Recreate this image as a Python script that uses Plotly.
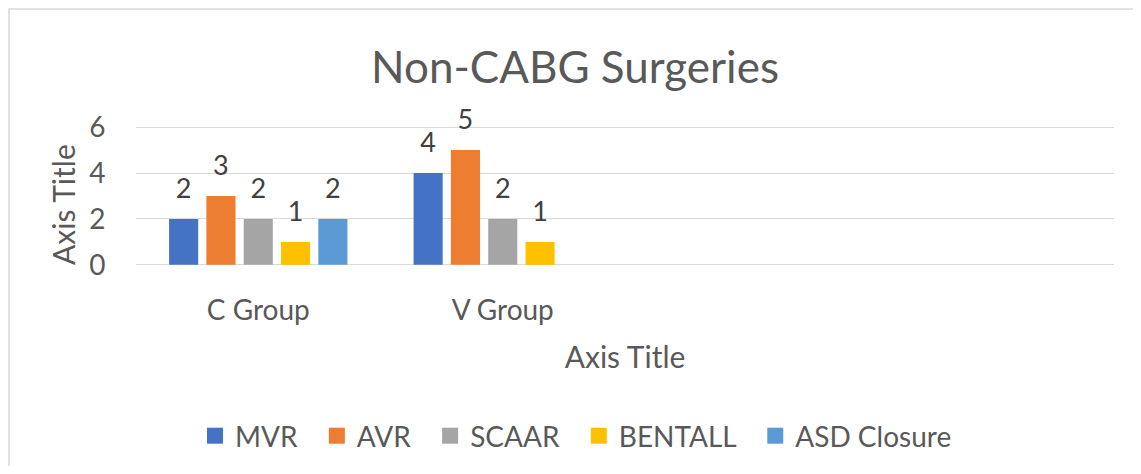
import plotly.graph_objects as go

groups = ["C Group", "V Group", " ", "  "]
series_names = ["MVR", "AVR", "SCAAR", "BENTALL", "ASD Closure"]
mvr = [2, 4]
avr = [3, 5]
scaar = [2, 2]
bentall = [1, 1]
asd_closure = [2, None]
colors = ["#4472C4", "#ED7D31", "#A5A5A5", "#FFC000", "#5B9BD5"]
y_ticks = [0, 2, 4, 6]

# the html body has an 8px margin, so the figure is drawn 8px in from the page edge
W, H = 1133, 458
ML, MR, MT, MB = 128, 27, 118, 200
FONT = "Lato"
GREY = "#595959"
pw = W - ML - MR
ph = H - MT - MB

series = list(zip(series_names, [mvr, avr, scaar, bentall, asd_closure], colors))

fig = go.Figure()
for name, vals, color in series:
    fig.add_trace(go.Bar(
        x=groups[:2], y=vals, name=name,
        marker=dict(color=color, line=dict(width=0)),
        offsetgroup=name, showlegend=False, hoverinfo="skip",
    ))

# value labels, lifted above the bars like Excel does
for name, vals, color in series:
    fig.add_trace(go.Scatter(
        x=groups[:2], y=vals, mode="markers+text",
        text=[v if v is not None else "" for v in vals],
        textposition="top center",
        textfont=dict(size=27, color="#404040", family=FONT),
        marker=dict(size=21, opacity=0),
        offsetgroup=name, showlegend=False, cliponaxis=False, hoverinfo="skip",
    ))

# legend entries
for name, vals, color in series:
    fig.add_trace(go.Scatter(
        x=[None], y=[None], mode="markers", name=name + "\u00a0\u00a0",
        marker=dict(symbol="square", size=16, color=color),
        offsetgroup=name, showlegend=True,
    ))

# chart frame (only top/left edges fall inside the picture)
fig.add_shape(
    type="rect", xref="paper", yref="paper",
    x0=(1 - ML) / pw, x1=(W + 20 - ML) / pw,
    y0=(H - MB - (H + 20)) / ph, y1=(H - MB - 1) / ph,
    line=dict(color="#d9d9d9", width=1.5), layer="below",
)

# y axis title
fig.add_annotation(
    text="Axis Title", textangle=-90,
    xref="paper", yref="paper",
    x=(55 - ML) / pw, y=(H - MB - 197) / ph,
    xanchor="center", yanchor="middle", showarrow=False,
    font=dict(size=30, color=GREY, family=FONT),
)

fig.update_layout(
    width=W,
    height=H,
    margin=dict(l=ML, r=MR, t=MT, b=MB, autoexpand=False),
    paper_bgcolor="white",
    plot_bgcolor="white",
    barmode="group",
    bargap=0.237,
    bargroupgap=0.22,
    scattermode="group",
    scattergap=0.237,
    font=dict(family=FONT, color=GREY, size=28),
    title=dict(
        text="Non-CABG Surgeries",
        x=567 / W, xanchor="center",
        y=1 - 60 / H, yanchor="middle",
        xref="container", yref="container",
        font=dict(size=44, color=GREY, family=FONT),
    ),
    xaxis=dict(
        categoryorder="array",
        categoryarray=groups,
        range=[-0.5, 3.5],
        showgrid=False,
        zeroline=False,
        showline=False,
        ticks="",
        automargin=False,
        ticklabelstandoff=25,
        tickfont=dict(size=28, color=GREY),
        title=dict(text="Axis Title", standoff=21, font=dict(size=30, color=GREY)),
    ),
    yaxis=dict(
        range=[-0.05, 6.05],
        tickvals=y_ticks,
        showgrid=True,
        gridcolor="#d9d9d9",
        gridwidth=1.3,
        zeroline=False,
        showline=False,
        ticks="outside",
        ticklen=24,
        tickcolor="rgba(0,0,0,0)",
        automargin=False,
        tickfont=dict(size=28, color=GREY),
    ),
    legend=dict(
        orientation="h",
        xref="container", yref="container",
        x=575 / W, xanchor="center",
        y=1 - 428 / H, yanchor="middle",
        font=dict(size=28, color=GREY),
        itemwidth=30,
    ),
)

fig.write_html("out.html")
